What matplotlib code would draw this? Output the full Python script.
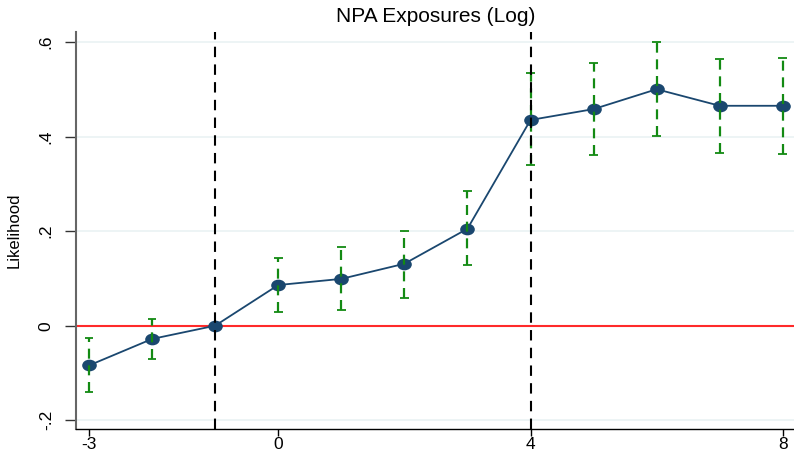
import matplotlib
matplotlib.use("Agg")
import matplotlib.pyplot as plt
from matplotlib.path import Path
from matplotlib.transforms import Affine2D
import numpy as np

periods = [-3, -2, -1, 0, 1, 2, 3, 4, 5, 6, 7, 8]
coef = [-0.084, -0.028, 0.0, 0.086, 0.099, 0.131, 0.205, 0.435, 0.458, 0.500, 0.465, 0.465]
ci_low = [-0.140, -0.070, None, 0.028, 0.034, 0.059, 0.129, 0.339, 0.361, 0.401, 0.365, 0.363]
ci_high = [-0.026, 0.015, None, 0.144, 0.166, 0.201, 0.285, 0.534, 0.555, 0.599, 0.564, 0.567]
vlines_at = [-1, 4]
yticks = [-0.2, 0, 0.2, 0.4, 0.6]
ytick_labels = ["-.2", "0", ".2", ".4", ".6"]
xticks = [-3, 0, 4, 8]

plt.rcParams['font.family'] = ['Liberation Sans', 'DejaVu Sans']

fig = plt.figure(figsize=(7.94, 4.55), dpi=100)
ax = fig.add_axes([76/794, 1 - 429/455, 1 - 76/794 + 0.001, (429 - 32)/455])

ax.set_xlim(-3.206, 8.19)
ax.set_ylim(-0.2184, 0.621)

for t in yticks:
    ax.axhline(t, color='#eaf2f3', lw=1.2, zorder=0)

ax.axhline(0, color='#ff2a2a', lw=1.5, zorder=1)

navy = '#1a476f'
ellipse = Path.unit_circle().transformed(Affine2D().scale(1.0, 0.78))
ax.plot(periods, coef, color=navy, lw=1.3, marker=ellipse, ms=9.5, mfc=navy, mec=navy, zorder=3)

green = '#138a13'
xs = [p for p, l in zip(periods, ci_low) if l is not None]
lo = [l for l in ci_low if l is not None]
hi = [h for h in ci_high if h is not None]
ax.vlines(xs, lo, hi, colors=green, lw=1.6, linestyles=(0, (4.5, 3.0)), zorder=4)
ax.hlines(lo, [x - 0.07 for x in xs], [x + 0.07 for x in xs], colors=green, lw=1.3, zorder=4)
ax.hlines(hi, [x - 0.07 for x in xs], [x + 0.07 for x in xs], colors=green, lw=1.3, zorder=4)

for v in vlines_at:
    ax.axvline(v, color='black', lw=1.5, linestyle=(0, (5, 3.5)), zorder=5)

ax.set_yticks(yticks)
ax.set_yticklabels(ytick_labels, rotation=90, va='center', fontsize=12.5)
ax.set_xticks(xticks)
ax.set_xticklabels([str(x) for x in xticks], fontsize=12.5)
ax.tick_params(axis='y', direction='out', length=8, width=1, color='#333333', pad=8)
ax.tick_params(axis='x', direction='out', length=5, width=1, color='black', pad=1)

ax.spines['top'].set_visible(False)
ax.spines['right'].set_visible(False)
ax.spines['left'].set_color('#666666')
ax.spines['left'].set_linewidth(1.5)
ax.spines['bottom'].set_color('black')
ax.spines['bottom'].set_linewidth(1.0)

ax.set_ylabel('Likelihood', fontsize=12, labelpad=12)
fig.text(436/794, 1 - 17/455, 'NPA Exposures (Log)', ha='center', va='center', fontsize=15)

fig.savefig('out.png', dpi=100)
